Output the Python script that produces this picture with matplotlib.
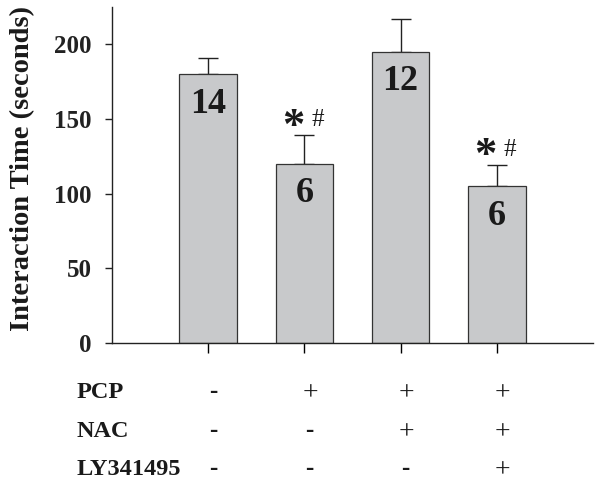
import numpy as np
import matplotlib.pyplot as plt
from matplotlib.transforms import blended_transform_factory

plt.rcParams['font.family'] = ['Liberation Serif', 'DejaVu Serif']

# data
groups = ['1', '2', '3', '4']
means = [180, 120, 195, 105]
errs = [11, 19, 22, 14]
n_labels = ['14', '6', '12', '6']
signif = ['', '*#', '', '*#']

row_names = ['PCP', 'NAC', 'LY341495']
pcp = ['-', '+', '+', '+']
nac = ['-', '-', '+', '+']
ly = ['-', '-', '-', '+']

fig = plt.figure(figsize=(6.01, 4.82), dpi=100)
ax = fig.add_axes([112/601, 139/482, 481/601, 336/482])

x = np.arange(1, len(means) + 1)
ax.bar(x, means, width=0.6, color='#c8c9cb', edgecolor='#333333', linewidth=0.9, zorder=2)
ax.errorbar(x, means, yerr=[np.zeros(len(errs)), errs], fmt='none',
            ecolor='#222222', elinewidth=1.0, capsize=7, capthick=1.0, zorder=1)

for xi, m, lab in zip(x, means, n_labels):
    ax.text(xi, m - 20, lab, ha='center', va='center', fontsize=26,
            fontweight='bold', color='#1a1a1a')

for xi, m, e, s in zip(x, means, errs, signif):
    if s:
        ax.annotate('*', (xi - 0.12, m + e), xytext=(0, -8), textcoords='offset points',
                    ha='center', va='bottom', fontsize=32, fontweight='bold',
                    color='#1a1a1a')
        ax.annotate('#', (xi + 0.14, m + e), xytext=(0, 3), textcoords='offset points',
                    ha='center', va='bottom', fontsize=18, color='#1a1a1a')

ax.set_xlim(0, 5)
ax.set_ylim(0, 225)
ax.set_yticks([0, 50, 100, 150, 200])
ax.set_xticks(x)
ax.set_xticklabels([])
ax.spines['top'].set_visible(False)
ax.spines['right'].set_visible(False)
for sp in ['left', 'bottom']:
    ax.spines[sp].set_linewidth(1.0)
    ax.spines[sp].set_color('#222222')
ax.tick_params(axis='y', direction='out', length=5, width=1.0, pad=9.5,
               labelsize=18, colors='#222222')
ax.tick_params(axis='x', direction='out', length=7, width=1.0)
for t in ax.get_yticklabels():
    t.set_fontweight('bold')
ax.set_ylabel('Interaction Time (seconds)', fontsize=20.5, fontweight='bold',
              color='#1a1a1a')
ax.yaxis.set_label_coords(-0.16, 0.52)

# treatment table below axis (columns follow the bars)
trans = blended_transform_factory(ax.transData, fig.transFigure)
row_base = [398, 437, 475]
for name, yy, signs in zip(row_names, row_base, [pcp, nac, ly]):
    fig.text(77/601, 1 - yy/482, name, ha='left', va='baseline', fontsize=17.5,
             fontweight='bold', color='#1a1a1a')
    for xi, s in zip(x, signs):
        if s == '+':
            ax.text(xi + 0.06, 1 - (yy + 2)/482, s, transform=trans, ha='center',
                    va='baseline', fontsize=20, color='#1a1a1a', clip_on=False)
        else:
            ax.text(xi + 0.05, 1 - yy/482, s, transform=trans, ha='center',
                    va='baseline', fontsize=18, fontweight='bold',
                    color='#1a1a1a', clip_on=False)

fig.savefig('out.png', dpi=100)
